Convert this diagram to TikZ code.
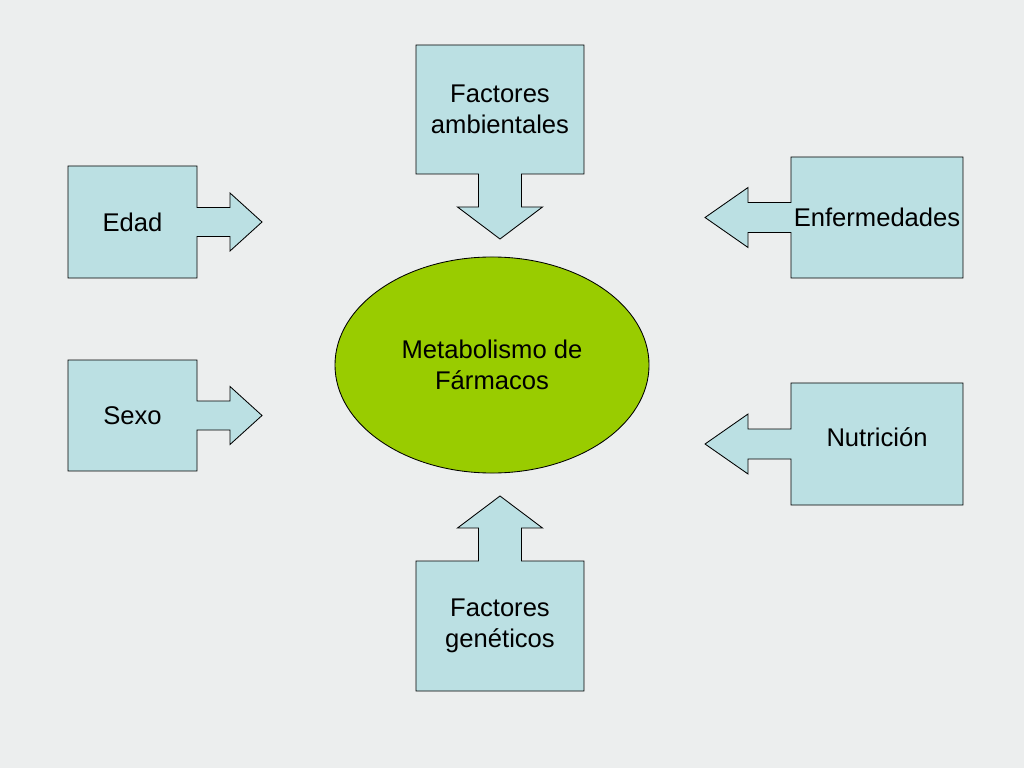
\documentclass[tikz,border=0pt]{standalone}
\usepackage{fontspec}
\setmainfont{Liberation Sans}
\usepackage{tikz}
\usetikzlibrary{shapes.geometric,calc,backgrounds}

\definecolor{wall}{HTML}{ECEEEE}
\definecolor{boxblue}{HTML}{BBE0E3}
\definecolor{limegreen}{HTML}{99CC00}

\begin{document}
\begin{tikzpicture}[x=0.703125pt,y=-0.703125pt,font=\fontsize{18}{21.6}\selectfont]
  \tikzstyle{every node}=[align=center,inner sep=0pt,outer sep=0pt]
  \tikzstyle{callout}=[fill=boxblue,draw=black,line width=0.6pt,line join=miter]
  \tikzstyle{centre}=[ellipse,fill=limegreen,draw=black,line width=0.6pt]

  \begin{scope}[on background layer]
    \fill[wall] (0,0) rectangle (1024,768);
  \end{scope}

  \node[centre,minimum width=220.8pt,minimum height=151.9pt] (M) at (492,365) {Metabolismo de\\ Fármacos};

  \node[minimum width=118.1pt,minimum height=90.7pt] (Amb) at (500,109.5) {Factores\\ ambientales};
  \node[minimum width=118.1pt,minimum height=91.4pt] (Gen) at (500,626) {Factores\\ genéticos};
  \node[minimum width=90.7pt,minimum height=78.8pt]  (Edad) at (132.5,222) {Edad};
  \node[minimum width=90.7pt,minimum height=78.0pt]  (Sexo) at (132.5,415.5) {Sexo};
  \node[minimum width=120.9pt,minimum height=85.1pt] (Enf) at (877,217.5) {Enfermedades};
  \node[minimum width=120.9pt,minimum height=85.8pt,text depth=10pt] (Nut) at (877,444) {Nutrición};

  \begin{scope}[on background layer]
    % boxes pointing right
    \foreach \b in {Edad,Sexo}
      \draw[callout] (\b.south west) -- (\b.north west) -- (\b.north east)
        -- ($(\b.east)+(0,-14.5)$) -- ++(33,0) -- ++(0,-14.5) -- ++(32,29)
        -- ++(-32,29) -- ++(0,-14.5) -- ++(-33,0) -- (\b.south east) -- cycle;
    % boxes pointing left
    \foreach \b in {Enf,Nut}
      \draw[callout] (\b.south east) -- (\b.north east) -- (\b.north west)
        -- ($(\b.west)+(0,-15)$) -- ++(-43,0) -- ++(0,-15) -- ++(-43,30)
        -- ++(43,30) -- ++(0,-15) -- ++(43,0) -- (\b.south west) -- cycle;
    % down and up
    \draw[callout] (Amb.north east) -- (Amb.north west) -- (Amb.south west)
      -- ($(Amb.south)+(-21.5,0)$) -- ++(0,33) -- ++(-21,0) -- ++(42.5,32)
      -- ++(42.5,-32) -- ++(-21,0) -- ++(0,-33) -- (Amb.south east) -- cycle;
    \draw[callout] (Gen.south east) -- (Gen.south west) -- (Gen.north west)
      -- ($(Gen.north)+(-21.5,0)$) -- ++(0,-33) -- ++(-21,0) -- ++(42.5,-32)
      -- ++(42.5,32) -- ++(-21,0) -- ++(0,33) -- (Gen.north east) -- cycle;
  \end{scope}
\end{tikzpicture}
\end{document}
